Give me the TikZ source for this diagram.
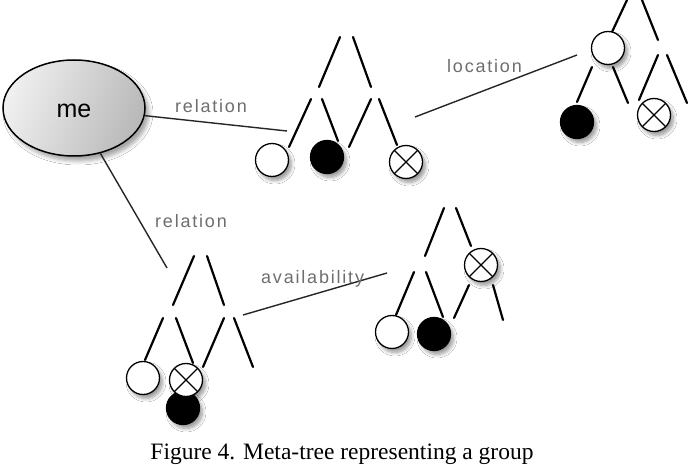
\documentclass[tikz,border=0pt]{standalone}
\usepackage{fontspec}
\setmainfont{Liberation Serif}
\newfontfamily\labelfont[LetterSpace=10]{Liberation Sans}
\newfontfamily\mefont{Liberation Sans}
\usetikzlibrary{shapes.geometric,shadows,shadows.blur}
\definecolor{labelgray}{RGB}{110,110,110}
\tikzset{
  edgeline/.style={line width=1.4pt, draw=black!85},
  stroke/.style={line width=2.2pt, line cap=round},
  circbase/.style={circle, minimum size=33pt, inner sep=0pt, line width=1.3pt, draw=black,
     blur shadow={shadow blur steps=6, shadow xshift=3pt, shadow yshift=-4pt, shadow opacity=40, shadow blur radius=3.5pt}},
  wnode/.style={circbase, fill=white},
  bnode/.style={circbase, fill=black},
  xnode/.style={circbase, fill=white,
     path picture={\draw[line width=1.1pt] (path picture bounding box.south west) -- (path picture bounding box.north east)
                   (path picture bounding box.north west) -- (path picture bounding box.south east);}},
  lbl/.style={font=\labelfont\fontsize{18}{18}\selectfont, text=labelgray, inner sep=0pt, anchor=base west},
}
\begin{document}
\begin{tikzpicture}[x=1pt,y=-1pt]
\useasboundingbox[fill=white] (0,0) rectangle (696,465);

% me ellipse
\node[ellipse, minimum width=142pt, minimum height=96pt, line width=1.5pt, draw=black,
      left color=gray!12, right color=gray!55, shading angle=70,
      blur shadow={shadow xshift=4pt, shadow yshift=-5pt, shadow opacity=35, shadow blur radius=4pt}]
      (me) at (74,108) {};
\node[font=\mefont\fontsize{25}{25}\selectfont, inner sep=0pt] (metext) at (74,111) {me};

% connectors
\coordinate (r1end) at (287,131);
\coordinate (r2end) at (167,268);
\coordinate (locA) at (415,117);
\coordinate (locB) at (577,55);
\coordinate (avA) at (243,315);
\coordinate (avB) at (387,273);
\draw[edgeline] (me) -- (r1end);
\draw[edgeline] (me) -- (r2end);
\draw[edgeline] (locA) -- (locB);
\draw[edgeline] (avA) -- (avB);

\node[lbl] (lrel1) at (175,113) {relation};
\node[lbl] (lrel2) at (155,228) {relation};
\node[lbl] (lloc) at (447,73) {location};
\node[lbl] (lav) at (261,283) {availability};

% ---------- tree 1 ----------
\draw[stroke] (340,37) -- (319,87);
\draw[stroke] (353,37) -- (371,87);
\draw[stroke] (311,99) -- (289,147);
\draw[stroke] (322,99) -- (338,141);
\draw[stroke] (371,99) -- (349,147);
\draw[stroke] (379,99) -- (397,145);
\node[wnode] (t1w) at (272,160) {};
\node[bnode] (t1b) at (327,157) {};
\node[xnode] (t1x) at (406,162) {};

% ---------- tree 2 ----------
\draw[stroke] (627,0) -- (612,32);
\draw[stroke] (642,0) -- (658,40);
\draw[stroke] (592,67) -- (577,102);
\draw[stroke] (613,67) -- (628,103);
\draw[stroke] (658,55) -- (639,100);
\draw[stroke] (667,55) -- (687,103);
\node[wnode] (t2w) at (608,48) {};
\node[bnode] (t2b) at (577,122) {};
\node[xnode] (t2x) at (654,115) {};

% ---------- tree 3 ----------
\draw[stroke] (194,256) -- (173,305);
\draw[stroke] (207,256) -- (224,305);
\draw[stroke] (163,318) -- (145,360);
\draw[stroke] (176,318) -- (193,363);
\draw[stroke] (224,318) -- (203,367);
\draw[stroke] (234,318) -- (253,367);
\node[wnode] (t3w) at (143,378) {};
\node[bnode] (t3b) at (183,408) {};
\node[xnode] (t3x) at (186,380) {};

% ---------- tree 4 ----------
\draw[stroke] (444,208) -- (425,256);
\draw[stroke] (456,208) -- (471,246);
\draw[stroke] (469,285) -- (454,318);
\draw[stroke] (493,285) -- (503,320);
\draw[stroke] (414,272) -- (396,315);
\draw[stroke] (426,272) -- (443,317);
\node[xnode] (t4x) at (481,265) {};
\node[wnode] (t4w) at (392,332) {};
\node[bnode] (t4b) at (434,334) {};

% caption
\node[font=\fontsize{23.5}{23.5}\selectfont, anchor=base, inner sep=0pt] (cap) at (342,459) {Figure 4. Meta-tree representing a group};
\end{tikzpicture}
\end{document}
